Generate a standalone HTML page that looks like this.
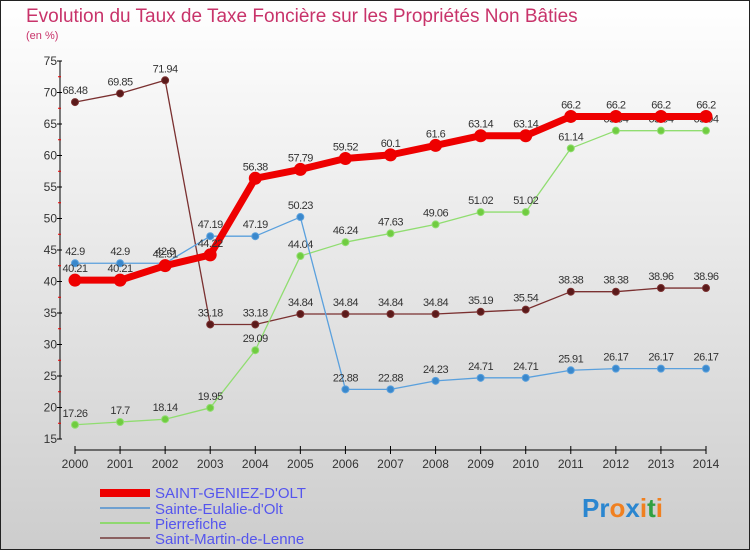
<!DOCTYPE html>
<html><head><meta charset="utf-8"><style>
body{margin:0}
svg{display:block;font-family:"Liberation Sans",sans-serif}
</style></head><body>
<svg id="c" width="750" height="550" xmlns="http://www.w3.org/2000/svg">
<defs><linearGradient id="bg" x1="0" y1="0" x2="0" y2="1"><stop offset="0" stop-color="#ffffff"/><stop offset="1" stop-color="#cdcdcd"/></linearGradient></defs>
<rect x="0.5" y="0.5" width="749" height="549" fill="url(#bg)" stroke="#222"/>
<text x="26" y="22" font-size="19" fill="#c8336a">Evolution du Taux de Taxe Foncière sur les Propriétés Non Bâties</text>
<text x="26" y="39" font-size="11" fill="#c8336a">(en %)</text>
<g id="axes"></g>
<g id="series"></g>
<g>
<rect x="100" y="489" width="50" height="8" fill="#e00"/>
<text x="155" y="498" font-size="15" fill="#5555ee">SAINT-GENIEZ-D'OLT</text>
<rect x="100" y="507" width="50" height="2" fill="#6fa0d0"/>
<text x="155" y="514" font-size="15" fill="#5555ee">Sainte-Eulalie-d'Olt</text>
<rect x="100" y="522" width="50" height="2" fill="#8fd870"/>
<text x="155" y="529" font-size="15" fill="#5555ee">Pierrefiche</text>
<rect x="100" y="537" width="50" height="2" fill="#8a6060"/>
<text x="155" y="544" font-size="15" fill="#5555ee">Saint-Martin-de-Lenne</text>
</g>
<text x="582" y="517" font-size="26" font-weight="bold"><tspan fill="#2a86d0">Pr</tspan><tspan fill="#f08020">o</tspan><tspan fill="#2a86d0">x</tspan><tspan fill="#f08020">i</tspan><tspan fill="#30a040">t</tspan><tspan fill="#f08020">i</tspan></text>
</svg>
<script>
const years=[2000,2001,2002,2003,2004,2005,2006,2007,2008,2009,2010,2011,2012,2013,2014];
const yTicks=[15,20,25,30,35,40,45,50,55,60,65,70,75];
const geniez=[40.21,40.21,42.51,44.22,56.38,57.79,59.52,60.1,61.6,63.14,63.14,66.2,66.2,66.2,66.2];
const eulalie=[42.9,42.9,42.9,47.19,47.19,50.23,22.88,22.88,24.23,24.71,24.71,25.91,26.17,26.17,26.17];
const pierrefiche=[17.26,17.7,18.14,19.95,29.09,44.04,46.24,47.63,49.06,51.02,51.02,61.14,63.94,63.94,63.94];
const martin=[68.48,69.85,71.94,33.18,33.18,34.84,34.84,34.84,34.84,35.19,35.54,38.38,38.38,38.96,38.96];
const NS="http://www.w3.org/2000/svg";
const X=i=>75+i*(706-75)/(years.length-1);
const Y=v=>439-(v-15)*6.3;
function mk(tag,attrs,parent){const e=document.createElementNS(NS,tag);for(const k in attrs)e.setAttribute(k,attrs[k]);parent.appendChild(e);return e;}
const ax=document.getElementById('axes');
let a=mk('line',{x1:60,y1:61,x2:60,y2:439,stroke:'#000','stroke-width':1},ax);


a=mk('line',{x1:75,y1:450,x2:706,y2:450,stroke:'#000','stroke-width':1},ax);


yTicks.forEach(v=>{
 const t=mk('text',{x:57,y:Y(v)+4,'font-size':12,'text-anchor':'end',fill:'#333'},ax);
 t.textContent=v;
 
 
 mk('line',{x1:57,y1:Y(v),x2:62,y2:Y(v),stroke:'#000'},ax);
 if(v<75)mk('line',{x1:58,y1:Y(v+2.5),x2:61,y2:Y(v+2.5),stroke:'#e00'},ax);
});
years.forEach((yr,i)=>{
 mk('line',{x1:X(i),y1:446,x2:X(i),y2:454,stroke:'#000'},ax);
 const t=mk('text',{x:X(i),y:468,'font-size':12,'text-anchor':'middle',fill:'#333'},ax);
 t.textContent=yr;
 
 
});
const sg=document.getElementById('series');
function draw(vals,color,dot,w,r,name){
 const g=mk('g',{},sg);
 
 
 const p=mk('polyline',{points:vals.map((v,i)=>X(i)+','+Y(v)).join(' '),fill:'none',stroke:color,'stroke-width':w,'stroke-linejoin':'round'},g);
 
 
 vals.forEach((v,i)=>{
  const c=mk('circle',{cx:X(i),cy:Y(v),r:r,fill:dot,stroke:color,'stroke-width':1},g);
  
  
  const t=mk('text',{x:X(i),y:Y(v)-8,'font-size':11,'text-anchor':'middle',fill:'#333','letter-spacing':'-0.5'},g);
  t.textContent=v;
  
  
 });
}
draw(martin,'#7a3030','#5a1a1a',1.3,3.5,'saint-martin');
draw(pierrefiche,'#90dd70','#70cc40',1.3,3.5,'pierrefiche');
draw(eulalie,'#5aa0dd','#3a88cc',1.3,3.5,'eulalie');
draw(geniez,'#ee0000','#ee0000',7,6,'saint-geniez');
</script>
</body></html>
